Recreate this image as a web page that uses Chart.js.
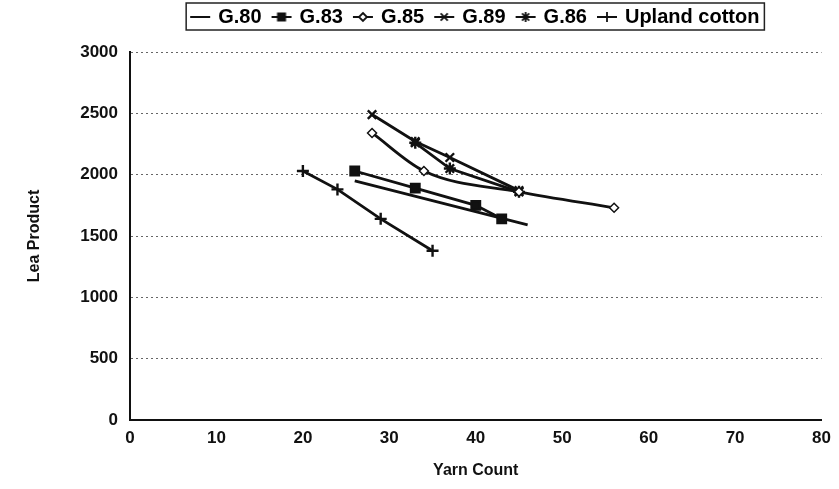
<!DOCTYPE html>
<html>
<head>
<meta charset="utf-8">
<script src="https://cdn.jsdelivr.net/npm/chart.js@4"></script>
<style>
  body { margin: 0; background: #fff; }
  #wrap { width: 839px; height: 489px; }
</style>
</head>
<body>
<div id="wrap"><canvas id="lea-chart"></canvas></div>
<script>
// values (yarn count vs lea product)
const seriesNames = ["G.80", "G.83", "G.85", "G.89", "G.86", "Upland cotton"];

const g80Count = [26, 36, 46];
const g80Lea = [1950, 1770, 1590];

const g83Count = [26, 33, 40, 43];
const g83Lea = [2030, 1890, 1750, 1640];

const g85Count = [28, 34, 45, 56];
const g85Lea = [2340, 2030, 1860, 1730];

const g89Count = [28, 33, 37, 45];
const g89Lea = [2490, 2270, 2140, 1870];

const g86Count = [33, 37, 45];
const g86Lea = [2260, 2050, 1860];

const uplandCount = [20, 24, 29, 35];
const uplandLea = [2030, 1880, 1640, 1380];

const xTicks = [0, 10, 20, 30, 40, 50, 60, 70, 80];
const yTicks = [0, 500, 1000, 1500, 2000, 2500, 3000];

const ink = "#111";
const fontFamily = "'Liberation Sans', Arial, sans-serif";

function toPoints(xs, ys) {
    return xs.map((x, i) => ({ x: x, y: ys[i] }));
}

// marker looks for each series: [pointStyle, radius, fill]
const markers = [
    ["circle", 0, ink],
    ["rect", 6, ink],
    ["rectRot", 4.5, "#fff"],
    ["crossRot", 6, ink],
    ["star", 6, ink],
    ["cross", 6, ink]
];

// little "line + marker" icons for the legend
function legendIcon(i) {
    const c = document.createElement("canvas");
    c.width = 22;
    c.height = 14;
    const g = c.getContext("2d");
    g.strokeStyle = ink;
    g.lineWidth = 2;
    g.beginPath();
    g.moveTo(1, 7);
    g.lineTo(21, 7);
    g.stroke();
    const [style, r, fill] = markers[i];
    if (r > 0) {
        g.fillStyle = fill;
        g.strokeStyle = ink;
        g.lineWidth = 1.8;
        if (style === "rect") {
            g.fillRect(6.5, 2.5, 9, 9);
        } else if (style === "rectRot") {
            g.beginPath();
            g.moveTo(11, 3); g.lineTo(15, 7); g.lineTo(11, 11); g.lineTo(7, 7); g.closePath();
            g.fill(); g.stroke();
        } else {
            Chart.helpers.drawPoint(g, { pointStyle: style, radius: 5, rotation: 0, borderWidth: 2 }, 11, 7);
        }
    }
    return c;
}

const allCounts = [g80Count, g83Count, g85Count, g89Count, g86Count, uplandCount];
const allLea = [g80Lea, g83Lea, g85Lea, g89Lea, g86Lea, uplandLea];

const datasets = seriesNames.map((name, i) => ({
    label: name,
    data: toPoints(allCounts[i], allLea[i]),
    showLine: true,
    borderColor: ink,
    backgroundColor: markers[i][2],
    borderWidth: 2.8,
    pointStyle: markers[i][0],
    pointRadius: markers[i][1],
    pointBorderWidth: i === 2 ? 1.5 : 2.4,
    pointBorderColor: ink,
    pointBackgroundColor: markers[i][2],
    tension: i === 2 ? 0.45 : 0,
    cubicInterpolationMode: i === 2 ? "monotone" : "default"
}));

const legendGap = {
    id: "legendGap",
    beforeInit(chart) {
        const fit = chart.legend.fit;
        chart.legend.fit = function () {
            fit.call(this);
            this.height += 15;
        };
    }
};

const legendFrame = {
    id: "legendFrame",
    afterDraw(chart) {
        const boxes = chart.legend.legendHitBoxes;
        if (!boxes || !boxes.length) return;
        const left = Math.min(...boxes.map(b => b.left)) - 6;
        const right = Math.max(...boxes.map(b => b.left + b.width)) + 5;
        const top = Math.min(...boxes.map(b => b.top)) - 4;
        const bottom = Math.max(...boxes.map(b => b.top + b.height)) + 3;
        const ctx = chart.ctx;
        ctx.save();
        ctx.strokeStyle = "#222";
        ctx.lineWidth = 1.5;
        ctx.strokeRect(left, top, right - left, bottom - top);
        ctx.restore();
    }
};

new Chart(document.getElementById("lea-chart"), {
    type: "scatter",
    data: { datasets: datasets },
    plugins: [legendGap, legendFrame],
    options: {
        responsive: true,
        maintainAspectRatio: false,
        animation: false,
        layout: { padding: { top: -5, left: 0, right: 16, bottom: 0 } },
        plugins: {
            tooltip: { enabled: false },
            legend: {
                position: "top",
                fullSize: false,
                labels: {
                    color: ink,
                    font: { family: fontFamily, size: 20, weight: "bold" },
                    usePointStyle: true,
                    pointStyleWidth: 16,
                    padding: 12,
                    generateLabels: (chart) => seriesNames.map((name, i) => ({
                        text: name,
                        datasetIndex: i,
                        pointStyle: legendIcon(i),
                        fillStyle: ink,
                        strokeStyle: ink,
                        lineWidth: 0,
                        hidden: false
                    }))
                }
            }
        },
        scales: {
            x: {
                type: "linear",
                min: 0,
                max: 80,
                afterBuildTicks: (scale) => { scale.ticks = xTicks.map(v => ({ value: v })); },
                afterFit: (scale) => { scale.height = 69; },
                grid: { display: false, drawTicks: false },
                border: { display: true, color: ink, width: 2 },
                ticks: {
                    color: ink,
                    padding: 8,
                    font: { family: fontFamily, size: 17, weight: "bold" },
                    callback: (v) => String(v)
                },
                title: {
                    display: true,
                    text: "Yarn Count",
                    color: ink,
                    padding: { top: 0, bottom: 9 },
                    font: { family: fontFamily, size: 16, weight: "bold" }
                }
            },
            y: {
                type: "linear",
                min: 0,
                max: 3000,
                afterBuildTicks: (scale) => { scale.ticks = yTicks.map(v => ({ value: v })); },
                afterFit: (scale) => { scale.width = 130; },
                grid: { color: "#666", lineWidth: 1, drawTicks: false },
                border: { display: true, color: ink, width: 2, dash: [2, 3] },
                ticks: {
                    color: ink,
                    padding: 12,
                    font: { family: fontFamily, size: 17, weight: "bold" },
                    callback: (v) => String(v)
                },
                title: {
                    display: true,
                    text: "Lea Product",
                    color: ink,
                    padding: { top: 25, bottom: 0 },
                    font: { family: fontFamily, size: 16, weight: "bold" }
                }
            }
        }
    }
});
</script>
</body>
</html>
